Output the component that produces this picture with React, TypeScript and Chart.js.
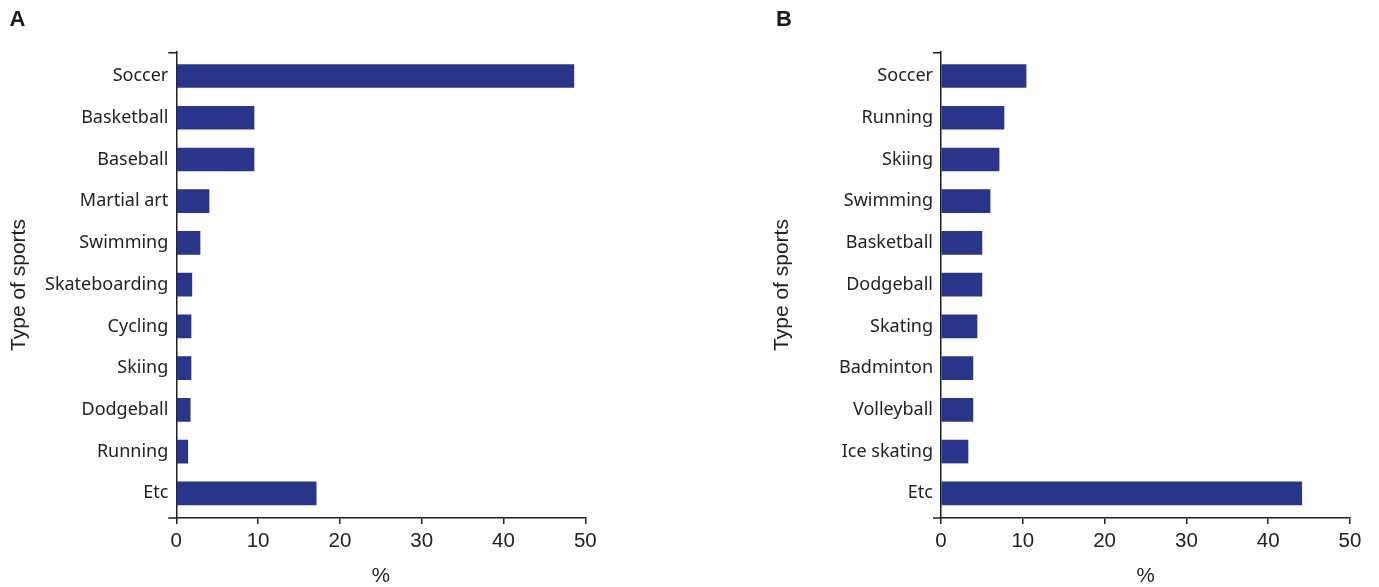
import React, { useEffect, useRef } from 'react';
import { Chart, registerables } from 'chart.js';

Chart.register(...registerables);

const categoriesA = ['Soccer', 'Basketball', 'Baseball', 'Martial art', 'Swimming', 'Skateboarding', 'Cycling', 'Skiing', 'Dodgeball', 'Running', 'Etc'];
const valuesA = [48.6, 9.5, 9.5, 4.0, 2.9, 1.9, 1.8, 1.8, 1.7, 1.4, 17.1];

const categoriesB = ['Soccer', 'Running', 'Skiing', 'Swimming', 'Basketball', 'Dodgeball', 'Skating', 'Badminton', 'Volleyball', 'Ice skating', 'Etc'];
const valuesB = [10.4, 7.7, 7.1, 6.0, 5.0, 5.0, 4.4, 3.9, 3.9, 3.3, 44.1];

const xTickValues = [0, 10, 20, 30, 40, 50];
const xAxisTitle = '%';
const yAxisTitle = 'Type of sports';
const panelLabels = ['A', 'B'];

const BAR = '#29348b';
const AXIS = '#1e1e1e';
const TEXT = '#222222';
const H = 587;

const axisExt = {
  id: 'axisExt',
  afterDraw(chart: any) {
    const { ctx, chartArea } = chart;
    const { left, top, bottom } = chartArea;
    ctx.save();
    ctx.strokeStyle = AXIS;
    ctx.lineWidth = 1.5;
    ctx.beginPath();
    ctx.moveTo(left - 8, top + 0.75);
    ctx.lineTo(left, top + 0.75);
    ctx.moveTo(left - 8, bottom);
    ctx.lineTo(left, bottom);
    ctx.stroke();
    ctx.restore();
  },
};

type PanelProps = {
  labels: string[];
  values: number[];
  canvasLeft: number;
  canvasWidth: number;
  plotLeft: number;
  plotRight: number;
  yTitleCenter: number;
};

function Panel({ labels, values, canvasLeft, canvasWidth, plotLeft, plotRight, yTitleCenter }: PanelProps) {
  const ref = useRef<HTMLCanvasElement | null>(null);
  useEffect(() => {
    if (!ref.current) return;
    const chart = new Chart(ref.current, {
      type: 'bar',
      data: {
        labels,
        datasets: [
          {
            data: values,
            backgroundColor: BAR,
            borderWidth: 0,
            barThickness: 23,
          },
        ],
      },
      options: {
        indexAxis: 'y',
        animation: false,
        responsive: false,
        maintainAspectRatio: false,
        layout: { padding: { left: 0, right: canvasWidth - plotRight, top: 52, bottom: 0 } },
        plugins: { legend: { display: false }, tooltip: { enabled: false } },
        scales: {
          x: {
            type: 'linear',
            min: 0,
            max: 50,
            afterBuildTicks: (s: any) => {
              s.ticks = xTickValues.map((v) => ({ value: v }));
            },
            grid: { display: true, drawOnChartArea: false, drawTicks: true, tickLength: 6, color: AXIS, lineWidth: 1.5 },
            border: { display: true, color: AXIS, width: 1.5 },
            ticks: {
              font: { family: '"Liberation Sans", Arial, sans-serif', size: 20.5 },
              color: TEXT,
              padding: 5,
              maxRotation: 0,
            },
            title: {
              display: true,
              text: xAxisTitle,
              color: TEXT,
              font: { family: '"Liberation Sans", Arial, sans-serif', size: 20.5, lineHeight: 1 },
              padding: { top: 0, bottom: 0 },
            },
            afterFit: (s: any) => {
              s.height = H - 518;
            },
          },
          y: {
            type: 'category',
            grid: { display: false, drawTicks: false },
            border: { display: true, color: AXIS, width: 1.5 },
            ticks: {
              font: { family: '"Noto Sans", sans-serif', size: 18 },
              color: TEXT,
              padding: 8,
              autoSkip: false,
            },
            title: {
              display: true,
              text: yAxisTitle,
              color: TEXT,
              font: { family: '"Liberation Sans", Arial, sans-serif', size: 21, lineHeight: 1 },
              padding: { top: yTitleCenter - 10.5, bottom: 0 },
            },
            afterBuildTicks: (s: any) => {
              s._startValue = -0.575;
              s._valueRange = 11.167;
            },
            afterFit: (s: any) => {
              s.width = plotLeft;
            },
          },
        },
      } as any,
      plugins: [axisExt],
    });
    return () => chart.destroy();
  }, []);
  return (
    <canvas
      ref={ref}
      width={canvasWidth}
      height={H}
      style={{ position: 'absolute', left: canvasLeft, top: 0, width: canvasWidth, height: H }}
    />
  );
}

const labelStyle: React.CSSProperties = {
  position: 'absolute',
  top: 8,
  fontFamily: '"Liberation Sans", Arial, sans-serif',
  fontWeight: 'bold',
  fontSize: 22,
  lineHeight: '22px',
  color: '#1a1a1a',
};

export default function App() {
  return (
    <div style={{ position: 'absolute', left: 0, top: 0, width: 1379, height: H, background: '#fff', overflow: 'hidden' }}>
      <Panel labels={categoriesA} values={valuesA} canvasLeft={0} canvasWidth={690} plotLeft={176.3} plotRight={585.3} yTitleCenter={19} />
      <Panel labels={categoriesB} values={valuesB} canvasLeft={690} canvasWidth={689} plotLeft={251} plotRight={660} yTitleCenter={92} />
      <div style={{ ...labelStyle, left: 9.5 }}>{panelLabels[0]}</div>
      <div style={{ ...labelStyle, left: 776 }}>{panelLabels[1]}</div>
    </div>
  );
}
